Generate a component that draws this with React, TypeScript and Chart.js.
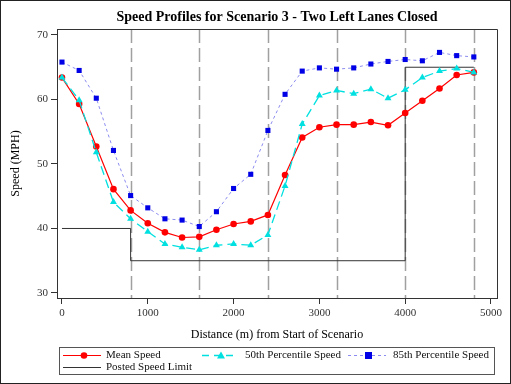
import React, { useEffect, useRef } from 'react';
import { Chart, registerables } from 'chart.js';

Chart.register(...registerables);

const distances = [0, 200, 400, 600, 800, 1000, 1200, 1400, 1600, 1800, 2000, 2200, 2400, 2600, 2800, 3000, 3200, 3400, 3600, 3800, 4000, 4200, 4400, 4600, 4800];
const meanSpeed = [63.4, 59.3, 52.7, 46.1, 42.8, 40.8, 39.4, 38.6, 38.7, 39.8, 40.7, 41.1, 42.1, 48.3, 54.1, 55.7, 56.1, 56.1, 56.5, 56.0, 57.9, 59.8, 61.7, 63.8, 64.2];
const p50Speed = [63.4, 59.9, 51.8, 44.1, 41.5, 39.5, 37.6, 37.1, 36.7, 37.4, 37.6, 37.4, 39.0, 46.6, 56.2, 60.6, 61.4, 60.9, 61.6, 60.2, 61.5, 63.4, 64.4, 64.8, 64.2];
const p85Speed = [65.8, 64.5, 60.2, 52.1, 45.1, 43.2, 41.5, 41.3, 40.3, 42.6, 46.2, 48.4, 55.2, 60.8, 64.4, 64.9, 64.7, 64.9, 65.5, 65.9, 66.2, 66.0, 67.3, 66.8, 66.6];
const limitX = [0, 800, 4000, 4800];
const limitSpeed = [40, 35, 65, 65];
const refLines = [800, 1600, 2400, 3200, 4000, 4800];
const xTicks = [0, 1000, 2000, 3000, 4000, 5000];
const yTicks = [30, 40, 50, 60, 70];

const titleText = 'Speed Profiles for Scenario 3 - Two Left Lanes Closed';
const xTitle = 'Distance (m) from Start of Scenario';
const yTitle = 'Speed (MPH)';
const seriesNames = ['Mean Speed', '50th Percentile Speed', '85th Percentile Speed', 'Posted Speed Limit'];

const SERIF = '"Liberation Serif", "Times New Roman", serif';
const RED = '#ff0000';
const CYAN = '#00e0e0';
const BLUE_LINE = '#8c8cf0';
const BLUE_PT = '#0000e6';

const toXY = (xs: number[], ys: number[]) => xs.map((x, i) => ({ x, y: ys[i] }));

const refLinePlugin = {
  id: 'refLines',
  beforeDatasetsDraw(chart: any) {
    const { ctx, chartArea, scales } = chart;
    ctx.save();
    ctx.strokeStyle = '#a0a0a0';
    ctx.lineWidth = 1.5;
    ctx.setLineDash([14, 5]);
    refLines.forEach((v) => {
      const px = Math.round(scales.x.getPixelForValue(v)) + 0.5;
      ctx.beginPath();
      ctx.moveTo(px, chartArea.top);
      ctx.lineTo(px, chartArea.bottom);
      ctx.stroke();
    });
    ctx.restore();
  },
};

const decorPlugin = {
  id: 'decor',
  afterDraw(chart: any) {
    const { ctx, chartArea, width, height } = chart;
    ctx.save();
    // plot frame top/right
    ctx.strokeStyle = '#333';
    ctx.lineWidth = 1;
    ctx.beginPath();
    ctx.moveTo(chartArea.left, chartArea.top + 0.5);
    ctx.lineTo(chartArea.right + 0.5, chartArea.top + 0.5);
    ctx.lineTo(chartArea.right + 0.5, chartArea.bottom);
    ctx.stroke();
    // outer border
    ctx.strokeStyle = '#222';
    ctx.strokeRect(0.5, 0.5, width - 1, height - 1);
    // title
    ctx.fillStyle = '#000';
    ctx.font = 'bold 14px ' + SERIF;
    ctx.textAlign = 'center';
    ctx.textBaseline = 'middle';
    ctx.fillText(titleText, (chartArea.left + chartArea.right) / 2, 17);

    // legend box
    ctx.strokeStyle = '#555';
    ctx.lineWidth = 1;
    ctx.strokeRect(59.5, 347.5, 435, 27);
    ctx.font = '11px ' + SERIF;
    ctx.textAlign = 'left';
    ctx.fillStyle = '#111';
    const r1 = 355.5;
    const r2 = 367.5;

    const line = (x1: number, x2: number, y: number, color: string, dash: number[], w: number) => {
      ctx.save();
      ctx.strokeStyle = color;
      ctx.lineWidth = w;
      ctx.setLineDash(dash);
      ctx.beginPath();
      ctx.moveTo(x1, y);
      ctx.lineTo(x2, y);
      ctx.stroke();
      ctx.restore();
    };
    // Mean
    line(63, 101, r1, RED, [], 1.2);
    ctx.fillStyle = RED;
    ctx.beginPath();
    ctx.arc(84, r1, 3.3, 0, Math.PI * 2);
    ctx.fill();
    // 50th
    line(202, 236, r1, CYAN, [7, 5], 1.3);
    ctx.fillStyle = CYAN;
    ctx.beginPath();
    ctx.moveTo(221, r1 - 4);
    ctx.lineTo(225, r1 + 3);
    ctx.lineTo(217, r1 + 3);
    ctx.closePath();
    ctx.fill();
    // 85th
    line(348, 386, r1, BLUE_LINE, [3, 3], 1);
    ctx.fillStyle = BLUE_PT;
    ctx.fillRect(365, r1 - 3.5, 7, 7);
    // Posted
    line(63, 101, r2, '#333', [], 1);

    ctx.fillStyle = '#111';
    ctx.fillText(seriesNames[0], 106, r1);
    ctx.fillText(seriesNames[1], 245, r1);
    ctx.fillText(seriesNames[2], 393, r1);
    ctx.fillText(seriesNames[3], 106, r2);
    ctx.restore();
  },
};

export default function App() {
  const canvasRef = useRef<HTMLCanvasElement | null>(null);

  useEffect(() => {
    document.body.style.margin = '0';
    const canvas = canvasRef.current;
    if (!canvas) return;
    const chart = new Chart(canvas, {
      type: 'line',
      data: {
        datasets: [
          {
            label: seriesNames[0],
            data: toXY(distances, meanSpeed),
            borderColor: RED,
            backgroundColor: RED,
            borderWidth: 1.2,
            pointStyle: 'circle',
            pointRadius: 3.3,
            pointBorderWidth: 0,
            pointBackgroundColor: RED,
            order: 1,
          },
          {
            label: seriesNames[1],
            data: toXY(distances, p50Speed),
            borderColor: CYAN,
            backgroundColor: CYAN,
            borderWidth: 1.3,
            borderDash: [9, 5],
            pointStyle: 'triangle',
            pointRadius: 4,
            pointBorderWidth: 0,
            pointBackgroundColor: CYAN,
            order: 0,
          },
          {
            label: seriesNames[2],
            data: toXY(distances, p85Speed),
            borderColor: BLUE_LINE,
            backgroundColor: BLUE_PT,
            borderWidth: 1,
            borderDash: [3, 3],
            pointStyle: 'rect',
            pointRadius: 3.6,
            pointBorderWidth: 0,
            pointBackgroundColor: BLUE_PT,
            order: 2,
          },
          {
            label: seriesNames[3],
            data: toXY(limitX, limitSpeed),
            borderColor: '#333',
            borderWidth: 1,
            stepped: true,
            pointRadius: 0,
            order: 3,
          },
        ],
      },
      options: {
        responsive: false,
        animation: false,
        layout: { padding: { top: 29, right: 14, bottom: 40, left: 0 } },
        plugins: {
          legend: { display: false },
          title: { display: false },
          tooltip: { enabled: false },
        },
        elements: { line: { tension: 0 } },
        scales: {
          x: {
            type: 'linear',
            min: -58,
            max: 5070,
            afterFit: (s: any) => { s.height = 46; },
            afterBuildTicks: (s: any) => { s.ticks = xTicks.map((v) => ({ value: v })); },
            grid: { display: true, drawOnChartArea: false, drawTicks: true, tickLength: 6, color: '#333' },
            border: { display: true, color: '#333', width: 1 },
            ticks: { font: { family: SERIF, size: 11 }, color: '#333', padding: 3, maxRotation: 0, autoSkip: false, callback: (v: any) => String(v) },
            title: { display: true, text: xTitle, font: { family: SERIF, size: 12 }, color: '#000', padding: { top: 0, bottom: 2 } },
          },
          y: {
            type: 'linear',
            min: 29.22,
            max: 70.93,
            afterFit: (s: any) => { s.width = 57; },
            afterBuildTicks: (s: any) => { s.ticks = yTicks.map((v) => ({ value: v })); },
            grid: { display: true, drawOnChartArea: false, drawTicks: true, tickLength: 6, color: '#333' },
            border: { display: true, color: '#333', width: 1 },
            ticks: { font: { family: SERIF, size: 11 }, color: '#333', padding: 3, callback: (v: any) => String(v) },
            title: { display: true, text: yTitle, font: { family: SERIF, size: 12 }, color: '#000', padding: { top: 9, bottom: 0 } },
          },
        },
      },
      plugins: [refLinePlugin, decorPlugin],
    });
    return () => chart.destroy();
  }, []);

  return (
    <div style={{ width: 511, height: 384 }}>
      <canvas ref={canvasRef} width={511} height={384} style={{ display: 'block' }} />
    </div>
  );
}
